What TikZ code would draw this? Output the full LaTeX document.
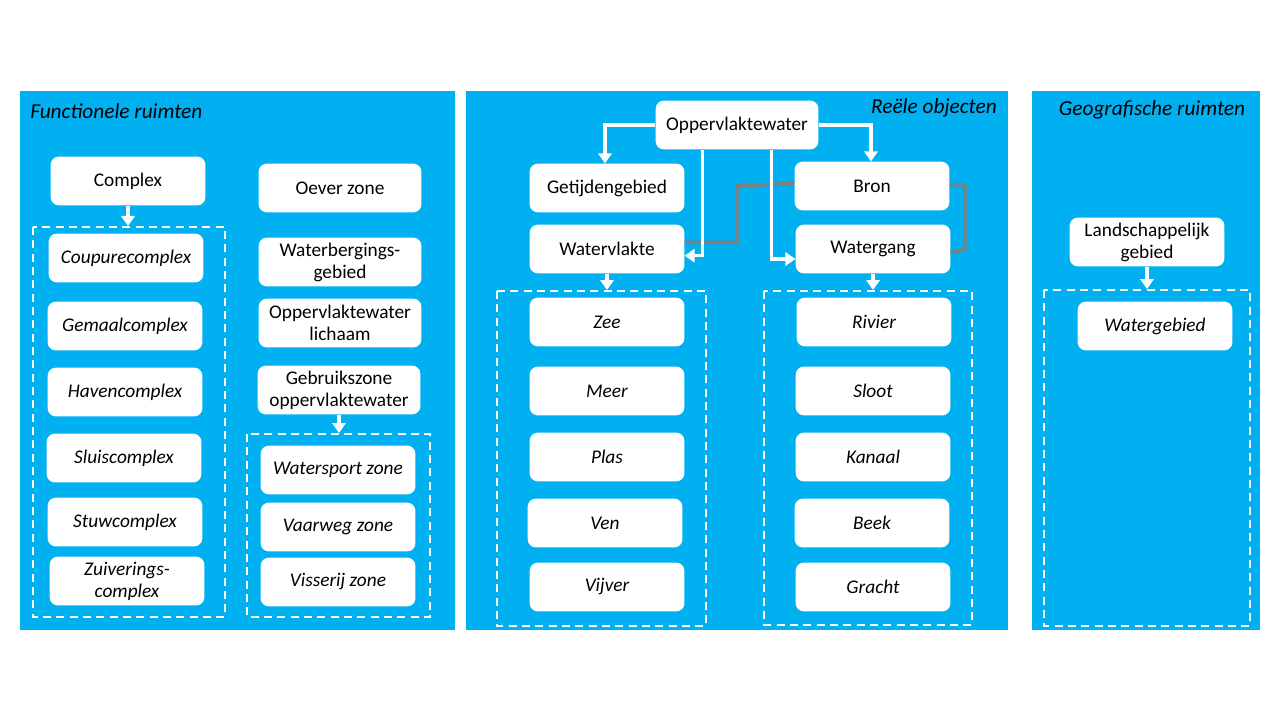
\documentclass[tikz,border=0pt]{standalone}
\usepackage{fontspec}
\setmainfont{Carlito}
\usetikzlibrary{arrows.meta}
\definecolor{waterblauw}{HTML}{00B0F0}
\definecolor{koppelgrijs}{HTML}{7F7F7F}
\begin{document}
\begin{tikzpicture}[x=0.75pt,y=-0.75pt,
  font=\fontsize{14.5}{16.5}\selectfont,
  paneel/.style={fill=waterblauw},
  vak/.style={fill=white, rounded corners=6pt, minimum width=116pt, minimum height=36.5pt, align=center, inner sep=1pt},
  breedvak/.style={vak, minimum width=122pt},
  soort/.style={vak, font=\fontsize{14.5}{16.5}\selectfont\itshape},
  kader/.style={draw=white, line width=1.5pt, dash pattern=on 6pt off 4pt},
  pijl/.style={draw=white, line width=2.6pt, -{Triangle[width=10pt,length=7.5pt]}},
  koppel/.style={draw=koppelgrijs, line width=2.6pt},
  titel/.style={font=\fontsize{16}{18}\selectfont\itshape, inner sep=0pt}]

 \useasboundingbox (0,0) rectangle (1280,720);

 \fill[paneel] (20,91) rectangle (455,630);
 \fill[paneel] (466,91) rectangle (1008,630);
 \fill[paneel] (1032,91) rectangle (1260,630);

\node[titel, anchor=west] (tfunc) at (30,111) {Functionele ruimten};
\node[titel, anchor=east] (treeel) at (997,108) {Reële objecten};
\node[titel] (tgeo) at (1152,110) {Geografische ruimten};



% functionele ruimten
 \draw[kader] (33,227) rectangle (225,617);
 \draw[kader] (247,434) rectangle (430,617);

\node[vak] (complex) at (128,181) {Complex};
\node[soort] (coupure) at (126,258) {Coupurecomplex};
\node[soort] (gemaal) at (125,326) {Gemaalcomplex};
\node[soort] (haven) at (125,392) {Havencomplex};
\node[soort] (sluis) at (124,458) {Sluiscomplex};
\node[soort] (stuw) at (125,522) {Stuwcomplex};
\node[soort] (zuivering) at (127,581) {Zuiverings-\\complex};

\node[breedvak] (oever) at (340,188) {Oever zone};
\node[breedvak] (berging) at (340,262) {Waterbergings-\\gebied};
\node[breedvak] (lichaam) at (340,323) {Oppervlaktewater\\lichaam};
\node[breedvak] (gebruik) at (339,390) {Gebruikszone\\oppervlaktewater};
\node[soort] (sport) at (338,470) {Watersport zone};
\node[soort] (vaarweg) at (338,527) {Vaarweg zone};
\node[soort] (visserij) at (338,582) {Visserij zone};

\coordinate (kcomplex) at (128,226);
\coordinate (kgebruik) at (339,433);
  \draw[pijl] (complex) -- (kcomplex);
  \draw[pijl] (gebruik) -- (kgebruik);



% reele objecten
 \draw[kader] (497,291) rectangle (706,626);
 \draw[kader] (764,291) rectangle (972,625);

\node[breedvak] (opp) at (737,125) {Oppervlaktewater};
\node[vak] (getij) at (607,188) {Getijdengebied};
\node[vak] (bron) at (872,186) {Bron};
\node[vak] (vlakte) at (607,249) {Watervlakte};
\node[vak] (gang) at (873,249) {Watergang};

\node[soort] (zee) at (607,322) {Zee};
\node[soort] (meer) at (607,391) {Meer};
\node[soort] (plas) at (607,457) {Plas};
\node[soort] (ven) at (605,523) {Ven};
\node[soort] (vijver) at (607,587) {Vijver};

\node[soort] (rivier) at (874,322) {Rivier};
\node[soort] (sloot) at (873,391) {Sloot};
\node[soort] (kanaal) at (873,457) {Kanaal};
\node[soort] (beek) at (872,523) {Beek};
\node[soort] (gracht) at (873,587) {Gracht};

\coordinate (kvlakte) at (607,290);
\coordinate (kgang) at (873,290);
\coordinate (knik) at (737,0);
\coordinate (knik2) at (965,0);

  \draw[koppel] ([yshift=5pt]vlakte.east) -| (knik |- bron.west) -- ([yshift=2pt]bron.west);
  \draw[koppel] ([yshift=1pt]bron.east) -| (knik2 |- gang.east) -- ([yshift=-3pt]gang.east);

  \draw[pijl] (opp.west) -| ([xshift=-1.5pt]getij.north);
  \draw[pijl] (opp.east) -| ([xshift=-0.75pt]bron.north);
  \draw[pijl] ([xshift=-26pt]opp.south) |- ([yshift=-5pt]vlakte.east);
  \draw[pijl] ([xshift=26pt]opp.south) |- ([yshift=-7.5pt]gang.west);
  \draw[pijl] (vlakte) -- (kvlakte);
  \draw[pijl] (gang) -- (kgang);



% geografische ruimten
 \draw[kader] (1044,290) rectangle (1250,626);

\node[vak] (landschap) at (1147,242) {Landschappelijk\\gebied};
\node[soort] (watergebied) at (1155,326) {Watergebied};

\coordinate (klandschap) at (1147,289);
  \draw[pijl] (landschap) -- (klandschap);
\end{tikzpicture}
\end{document}
